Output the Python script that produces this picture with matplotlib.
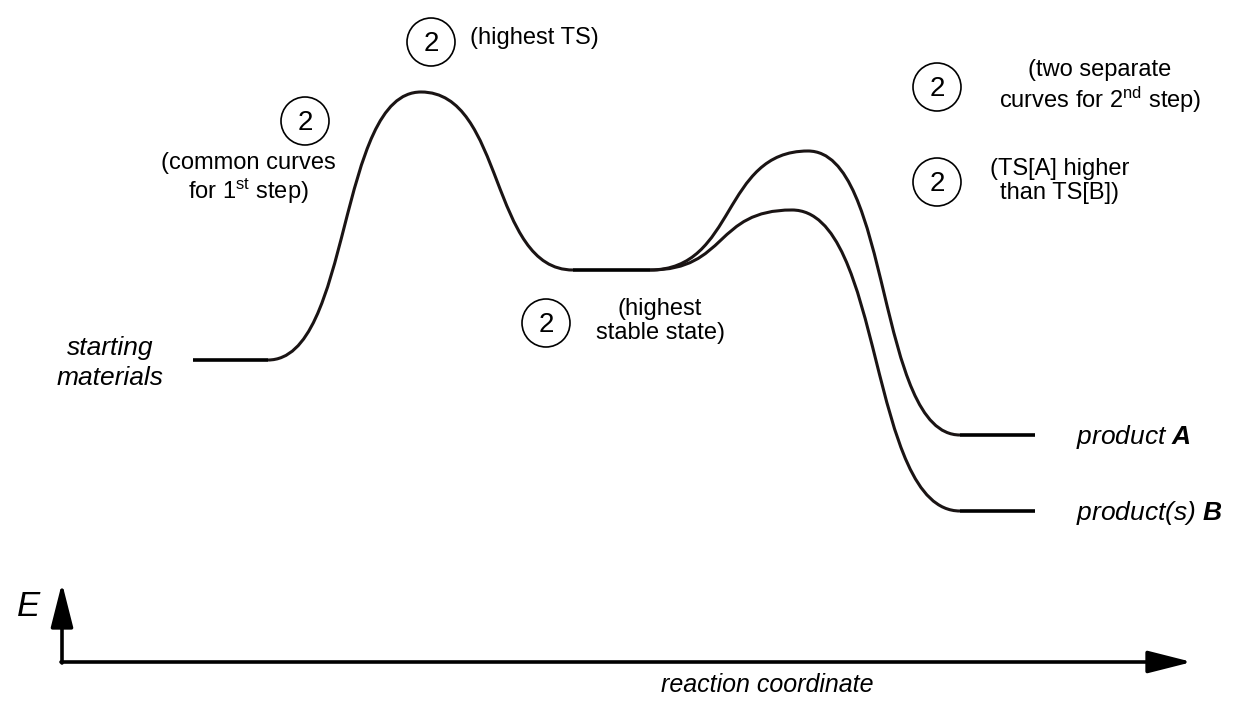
import matplotlib
matplotlib.use("Agg")
import matplotlib.pyplot as plt
from matplotlib.path import Path
from matplotlib.patches import PathPatch, Circle

plt.rcParams['font.family'] = ['Liberation Sans', 'DejaVu Sans']
plt.rcParams['mathtext.fontset'] = 'custom'
plt.rcParams['mathtext.rm'] = 'Liberation Sans'
plt.rcParams['mathtext.it'] = 'Liberation Sans:italic'
plt.rcParams['mathtext.bf'] = 'Liberation Sans:bold'
plt.rcParams['mathtext.bfit'] = 'Liberation Sans:bold:italic'

# ---- data (diagram units, y = energy drawn downward) ----
level_names = ["starting materials", "intermediate", "product A", "product B"]
level_x0 = [193, 573, 960, 960]
level_x1 = [268, 650, 1035, 1035]
level_y = [360, 270, 435, 511]

ts_names = ["TS1", "TS_A", "TS_B"]
ts_x = [421, 808, 792]
ts_y = [92, 151, 210]

circle_x = [305, 431, 546, 937, 937]
circle_y = [121, 42, 323, 87, 182]
circle_label = ["2", "2", "2", "2", "2"]

LW = 2.2
COL = "#1a1414"

fig = plt.figure(figsize=(12.42, 7.04), dpi=100)
ax = fig.add_axes([0, 0, 1, 1])
ax.set_xlim(0, 1242)
ax.set_ylim(704, 0)
ax.axis("off")


def bez_path(points, k=0.55):
    verts = [points[0]]
    codes = [Path.MOVETO]
    for (xa, ya), (xb, yb) in zip(points[:-1], points[1:]):
        d = k * (xb - xa)
        verts += [(xa + d, ya), (xb - d, yb), (xb, yb)]
        codes += [Path.CURVE4] * 3
    return Path(verts, codes)


# plateaus
for x0, x1, y in zip(level_x0, level_x1, level_y):
    ax.plot([x0, x1], [y, y], color="black", lw=2.6, solid_capstyle="butt")

# step 1 common curve
p1 = [(level_x1[0], level_y[0]), (ts_x[0], ts_y[0]), (level_x0[1], level_y[1])]
ax.add_patch(PathPatch(bez_path(p1), fill=False, lw=LW, ec=COL))
# step 2 curve A
pA = [(level_x1[1], level_y[1]), (ts_x[1], ts_y[1]), (level_x0[2], level_y[2])]
ax.add_patch(PathPatch(bez_path(pA), fill=False, lw=LW, ec=COL))
# step 2 curve B
pB = [(level_x1[1], level_y[1]), (ts_x[2], ts_y[2]), (level_x0[3], level_y[3])]
ax.add_patch(PathPatch(bez_path(pB), fill=False, lw=LW, ec=COL))

# axes arrows
arr = dict(arrowstyle="-|>,head_length=1.5,head_width=0.38", lw=2.6, color="black",
           shrinkA=0, shrinkB=0, mutation_scale=18)
ax.annotate("", xy=(62, 583), xytext=(62, 663), arrowprops=arr)
ax.annotate("", xy=(1192, 662), xytext=(61, 662), arrowprops=arr)

# circled numbers
for cx, cy, lab in zip(circle_x, circle_y, circle_label):
    ax.add_patch(Circle((cx, cy), 24, fill=False, lw=1.2, ec="black"))
    ax.text(cx, cy + 2, lab, ha="center", va="center", fontsize=20)

fs = 17
ls = 1.15
ax.text(470, 38, "(highest TS)", ha="left", va="center", fontsize=fs)
ax.text(248, 179, "(common curves\nfor 1$^{\\rm st}$ step)", ha="center", va="center",
        fontsize=fs, linespacing=ls)
ax.text(660, 321, "(highest\nstable state)", ha="center", va="center", fontsize=fs,
        linespacing=ls)
ax.text(1100, 87, "(two separate\ncurves for 2$^{\\rm nd}$ step)", ha="center", va="center",
        fontsize=fs, linespacing=ls)
ax.text(1060, 181, "(TS[A] higher\nthan TS[B])", ha="center", va="center", fontsize=fs,
        linespacing=ls)

ax.text(110, 363, "starting\nmaterials", ha="center", va="center", fontsize=19,
        style="italic", linespacing=1.3)
ax.text(1076, 437, "product $\\mathbfit{A}$", ha="left", va="center", fontsize=19,
        style="italic")
ax.text(1076, 513, "product(s) $\\mathbfit{B}$", ha="left", va="center", fontsize=19,
        style="italic")
ax.text(28, 607, "E", ha="center", va="center", fontsize=25, style="italic")
ax.text(767, 685, "reaction coordinate", ha="center", va="center", fontsize=18,
        style="italic")

fig.savefig("out.png", dpi=100)
